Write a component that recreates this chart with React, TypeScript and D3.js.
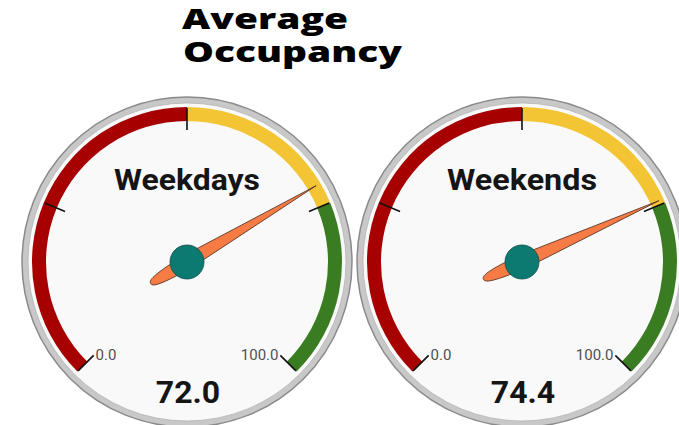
import React, { useRef, useEffect } from 'react';
import * as d3 from 'd3';

// gauge data
const gaugeNames = ['Weekdays', 'Weekends'];
const gaugeValues = [72.0, 74.4];
const bandStops = [0, 50, 75, 100];
const bandColors = ['#a60000', '#f3c433', '#3a7c22'];
const tickValues = [0, 25, 50, 75, 100];
const endLabels = ['0.0', '100.0'];
const titleLines = ['Average', 'Occupancy'];

export default function App() {
  const svgRef = useRef<SVGSVGElement>(null);

  useEffect(() => {
    const svg = d3.select(svgRef.current);
    svg.selectAll('*').remove();

    const width = 679;
    const height = 425;
    const centersX = [187, 522];
    const cy = 262;
    const rim = 165;
    const bandOuter = 155;
    const bandInner = 141;

    svg.attr('width', width).attr('height', height);

    svg.append('rect').attr('width', width).attr('height', height).attr('fill', '#ffffff');

    // value -> angle (radians, 0 at 12 o'clock, clockwise)
    const angle = d3.scaleLinear().domain([0, 100]).range([-135, 135].map(d => d * Math.PI / 180));
    const polar = (v: number, r: number) => [Math.sin(angle(v)) * r, -Math.cos(angle(v)) * r];

    gaugeNames.forEach((name, i) => {
      const g = svg.append('g').attr('transform', `translate(${centersX[i]},${cy})`);

      // bezel
      g.append('circle').attr('r', rim).attr('fill', '#c8c8c8').attr('stroke', '#8a8a8a').attr('stroke-width', 1.5);
      g.append('circle').attr('r', rim - 6).attr('fill', '#f9f9f9').attr('stroke', '#b4b4b4').attr('stroke-width', 0.8);

      // colour bands
      const arc = d3.arc<any>().innerRadius(bandInner).outerRadius(bandOuter);
      bandColors.forEach((c, j) => {
        g.append('path')
          .attr('d', arc({ startAngle: angle(bandStops[j]), endAngle: angle(bandStops[j + 1]) }))
          .attr('fill', c);
      });

      // ticks
      tickValues.forEach(t => {
        const [x1, y1] = polar(t, 132);
        const [x2, y2] = polar(t, bandOuter - 1);
        g.append('line')
          .attr('x1', x1).attr('y1', y1).attr('x2', x2).attr('y2', y2)
          .attr('stroke', '#111').attr('stroke-width', 1.6);
      });

      // end labels
      const [lx0, ly0] = polar(0, 128);
      g.append('text')
        .attr('x', lx0 - 1).attr('y', ly0 + 7)
        .attr('font-family', 'Roboto, sans-serif').attr('font-size', 15)
        .attr('fill', '#505050').attr('text-anchor', 'start')
        .text(endLabels[0]);
      const [lx1, ly1] = polar(100, 128);
      g.append('text')
        .attr('x', lx1 + 1).attr('y', ly1 + 7)
        .attr('font-family', 'Roboto, sans-serif').attr('font-size', 15)
        .attr('fill', '#505050').attr('text-anchor', 'end')
        .text(endLabels[1]);

      // gauge name
      g.append('text')
        .attr('x', 0).attr('y', -72)
        .attr('text-anchor', 'middle')
        .attr('font-family', 'Roboto, sans-serif').attr('font-weight', 'bold').attr('font-size', 29)
        .attr('fill', '#151515')
        .attr('textLength', i === 0 ? 146 : 150).attr('lengthAdjust', 'spacingAndGlyphs')
        .text(name);

      // value
      g.append('text')
        .attr('x', 1).attr('y', 141)
        .attr('text-anchor', 'middle')
        .attr('font-family', 'Roboto, sans-serif').attr('font-weight', 'bold').attr('font-size', 32)
        .attr('fill', '#151515')
        .text(gaugeValues[i].toFixed(1));

      // needle
      const deg = angle(gaugeValues[i]) * 180 / Math.PI;
      g.append('path')
        .attr('d', 'M0,-150 L7,-4 C7,14 6,34 3,40 C1.5,43 -1.5,43 -3,40 C-6,34 -7,14 -7,-4 Z')
        .attr('transform', `rotate(${deg})`)
        .attr('fill', '#f77b45').attr('stroke', '#5a3525').attr('stroke-width', 0.8);

      // hub
      g.append('circle').attr('r', 17).attr('fill', '#0d7a72').attr('stroke', '#0a4d48').attr('stroke-width', 0.8);
    });

    // title
    const title = svg.append('g')
      .attr('font-family', '"Open Sans", sans-serif')
      .attr('font-weight', 800)
      .attr('font-size', 29)
      .attr('fill', '#000');
    title.append('text').attr('x', 182).attr('y', 29)
      .attr('textLength', 166).attr('lengthAdjust', 'spacingAndGlyphs').text(titleLines[0]);
    title.append('text').attr('x', 183).attr('y', 62)
      .attr('textLength', 219).attr('lengthAdjust', 'spacingAndGlyphs').text(titleLines[1]);
  }, []);

  return (
    <div style={{ position: 'absolute', left: 0, top: 0, width: 679, height: 425 }}>
      <svg ref={svgRef} style={{ display: 'block' }}></svg>
    </div>
  );
}
